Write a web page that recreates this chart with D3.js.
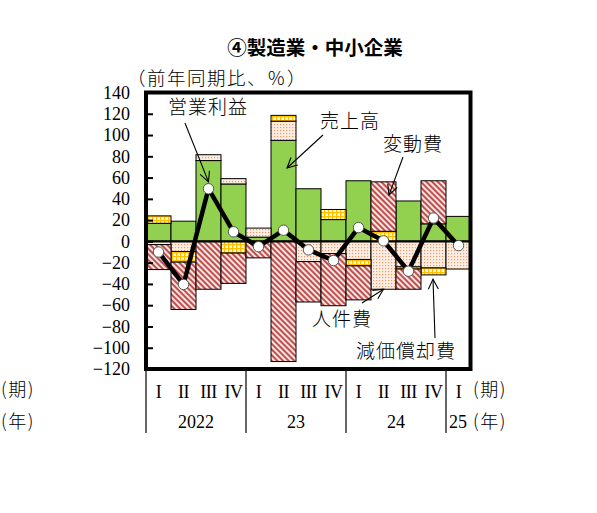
<!DOCTYPE html>
<html>
<head>
<meta charset="utf-8">
<script src="https://cdn.jsdelivr.net/npm/d3@7"></script>
<style>
  body { margin: 0; background: #fff; }
  .jp { font-family: "Noto Sans CJK JP", sans-serif; font-weight: 300; }
  .num { font-family: "Liberation Serif", serif; }
</style>
</head>
<body>
<div id="chart"></div>
<script>
// quarters and years along the bottom
var quarters = ["I", "II", "III", "IV", "I", "II", "III", "IV", "I", "II", "III", "IV", "I"];
var yearLabels = ["2022", "23", "24", "25"];
var yearStart = [0, 4, 8, 12];
var yearEnd = [4, 8, 12, 13];

// contributions (前年同期比、%)
var sales = [17, 19, 76, 54, 4, 95, 49.5, 20.5, 57, 0, 38, 16.5, 23.5];
var labor = [-3, -9.5, 5.5, 5, 8.5, 18, -19, -11.5, -17, -45, -24, -25, -26];
var depreciation = [7, -10, 0, -11, 0, 5.5, 0, 9.5, -6, 9.5, -2, -6.5, 0];
var variableCost = [-23.5, -44.5, -45, -28.5, -15.5, -113, -38, -49, -32, 46.5, -19, 40.5, 0];
var operatingProfit = [-10, -40.5, 49.5, 9, -5, 10.5, -8, -18, 13, 0.5, -28, 22, -4];

var yTicks = [-120, -100, -80, -60, -40, -20, 0, 20, 40, 60, 80, 100, 120, 140];

var svgWidth = 597, svgHeight = 513;

var svg = d3.select("#chart")
  .append("svg")
  .attr("width", svgWidth)
  .attr("height", svgHeight);

var x = d3.scaleBand()
  .domain(d3.range(quarters.length))
  .range([146, 471])
  .padding(0);

var y = d3.scaleLinear()
  .domain([-120, 140])
  .range([369, 92.5]);

// fill patterns
var defs = svg.append("defs");

var hatch = defs.append("pattern")
  .attr("id", "hatch")
  .attr("patternUnits", "userSpaceOnUse")
  .attr("width", 4)
  .attr("height", 4)
  .attr("patternTransform", "rotate(-45)");
hatch.append("rect").attr("width", 4).attr("height", 4).attr("fill", "#f7e4e2");
hatch.append("rect").attr("width", 2).attr("height", 4).attr("fill", "#c0504d");

var dots = defs.append("pattern")
  .attr("id", "dots")
  .attr("patternUnits", "userSpaceOnUse")
  .attr("width", 3)
  .attr("height", 3);
dots.append("rect").attr("width", 3).attr("height", 3).attr("fill", "#fdeee3");
dots.append("rect").attr("x", 1).attr("y", 1).attr("width", 1.2).attr("height", 1.2).attr("fill", "#ee9a66");

var grid = defs.append("pattern")
  .attr("id", "grid")
  .attr("patternUnits", "userSpaceOnUse")
  .attr("width", 4)
  .attr("height", 4);
grid.append("rect").attr("width", 4).attr("height", 4).attr("fill", "#ffc000");
grid.append("rect").attr("x", 1.3).attr("y", 1.3).attr("width", 2.7).attr("height", 2.7).attr("fill", "#fff6d5");

var marker = defs.append("marker")
  .attr("id", "arrow")
  .attr("viewBox", "-1 -7 13 14")
  .attr("refX", 10)
  .attr("refY", 0)
  .attr("markerWidth", 13)
  .attr("markerHeight", 14)
  .attr("markerUnits", "userSpaceOnUse")
  .attr("orient", "auto");
marker.append("path")
  .attr("d", "M0,-5L10,0L0,5")
  .attr("fill", "none")
  .attr("stroke", "#000")
  .attr("stroke-width", 1.1);

// stacked bars
var rows = quarters.map(function(q, i) {
  return {
    sales: sales[i],
    labor: labor[i],
    depreciation: depreciation[i],
    variable: variableCost[i]
  };
});

var fills = { sales: "#92d050", labor: "url(#dots)", depreciation: "url(#grid)", variable: "url(#hatch)" };

var stacked = d3.stack()
  .keys(["sales", "labor", "depreciation", "variable"])
  .offset(d3.stackOffsetDiverging)(rows);

var barGroup = svg.append("g");
stacked.forEach(function(layer) {
  barGroup.selectAll(null)
    .data(layer.filter(function(d) { return d[1] !== d[0]; }))
    .enter()
    .append("rect")
    .attr("x", function(d) { return x(layer.indexOf(d)); })
    .attr("width", x.bandwidth())
    .attr("y", function(d) { return y(Math.max(d[0], d[1])); })
    .attr("height", function(d) { return Math.abs(y(d[0]) - y(d[1])); })
    .attr("fill", fills[layer.key])
    .attr("stroke", "#000")
    .attr("stroke-width", 1);
});

// zero line
svg.append("line")
  .attr("x1", 146).attr("x2", 470.5)
  .attr("y1", y(0)).attr("y2", y(0))
  .attr("stroke", "#000")
  .attr("stroke-width", 2.2);

// operating profit line
var line = d3.line()
  .x(function(d, i) { return x(i) + x.bandwidth() / 2; })
  .y(function(d) { return y(d); });

svg.append("path")
  .datum(operatingProfit)
  .attr("d", line)
  .attr("fill", "none")
  .attr("stroke", "#000")
  .attr("stroke-width", 4.5)
  .attr("stroke-linejoin", "miter");

svg.selectAll(".pt")
  .data(operatingProfit)
  .enter()
  .append("circle")
  .attr("class", "pt")
  .attr("cx", function(d, i) { return x(i) + x.bandwidth() / 2; })
  .attr("cy", function(d) { return y(d); })
  .attr("r", 5.2)
  .attr("fill", "#fff")
  .attr("stroke", "#555")
  .attr("stroke-width", 1);

// y axis, ticks inside the frame
var leftAxis = d3.axisLeft(y)
  .tickValues(yTicks)
  .tickSizeInner(-7)
  .tickSizeOuter(0)
  .tickPadding(16)
  .tickFormat(function(d) { return String(d).replace("-", "\u2212"); });

var yAxis = svg.append("g")
  .attr("transform", "translate(146,0)")
  .call(leftAxis);
yAxis.select(".domain").remove();
yAxis.selectAll("line").attr("stroke", "#000").attr("stroke-width", 2);
yAxis.selectAll("text")
  .attr("class", "num")
  .attr("font-size", 18)
  .attr("fill", "#000")
  .attr("font-family", "Liberation Serif, serif");

// frame
svg.append("rect")
  .attr("x", 146)
  .attr("y", y(140))
  .attr("width", 324.5)
  .attr("height", y(-120) - y(140))
  .attr("fill", "none")
  .attr("stroke", "#000")
  .attr("stroke-width", 4);

// category labels
svg.selectAll(".q")
  .data(quarters)
  .enter()
  .append("text")
  .attr("class", "num")
  .attr("x", function(d, i) { return x(i) + x.bandwidth() / 2; })
  .attr("y", 398)
  .attr("text-anchor", "middle")
  .attr("font-size", 18)
  .attr("letter-spacing", -0.5)
  .text(function(d) { return d; });

svg.selectAll(".yr")
  .data(yearLabels)
  .enter()
  .append("text")
  .attr("class", "num")
  .attr("x", function(d, i) {
    return i === yearLabels.length - 1 ? x(yearStart[i]) + 12 : (x(yearStart[i]) + x(yearEnd[i] - 1) + x.bandwidth()) / 2;
  })
  .attr("y", 428)
  .attr("text-anchor", "middle")
  .attr("font-size", 18)
  .text(function(d) { return d; });

// year separators
svg.selectAll(".sep")
  .data(yearStart)
  .enter()
  .append("line")
  .attr("x1", function(d) { return x(d); })
  .attr("x2", function(d) { return x(d); })
  .attr("y1", y(-120))
  .attr("y2", 433)
  .attr("stroke", "#000")
  .attr("stroke-width", 1.2);

// axis captions
var captions = [
  { t: "(期)", x: 1, y: 396 },
  { t: "(年)", x: 1, y: 428 },
  { t: "(期)", x: 473, y: 396 },
  { t: "(年)", x: 473, y: 428 }
];
svg.selectAll(".cap")
  .data(captions)
  .enter()
  .append("text")
  .attr("class", "jp")
  .attr("x", function(d) { return d.x; })
  .attr("y", function(d) { return d.y; })
  .attr("font-size", 18)
  .attr("letter-spacing", 1.5)
  .text(function(d) { return d.t; });

// title
svg.append("text")
  .attr("x", 315)
  .attr("y", 55)
  .attr("text-anchor", "middle")
  .attr("font-family", "Noto Sans CJK JP, sans-serif")
  .attr("font-weight", "bold")
  .attr("font-size", 19.5)
  .text("④製造業・中小企業");

svg.append("text")
  .attr("class", "jp")
  .attr("x", 127)
  .attr("y", 85)
  .attr("font-size", 18.5)
  .attr("letter-spacing", 1.5)
  .text("（前年同期比、％）");

// labels with arrows; tips sit on the data
var notes = [
  { t: "営業利益", tx: 168, ty: 114, x0: 185, y0: 123, i: 2, v: 56, dx: 0 },
  { t: "売上高", tx: 320, ty: 128, x0: 323, y0: 135, i: 5, v: 69, dx: 3.5 },
  { t: "変動費", tx: 383, ty: 151, x0: 403, y0: 157, i: 9, v: 43.5, dx: 5.5 },
  { t: "人件費", tx: 312, ty: 326, x0: 362, y0: 303, i: 9, v: -45, dx: 0 },
  { t: "減価償却費", tx: 356, ty: 358, x0: 435, y0: 338, i: 11, v: -35.5, dx: -0.5 }
];

svg.selectAll(".note")
  .data(notes)
  .enter()
  .append("text")
  .attr("class", "jp")
  .attr("x", function(d) { return d.tx; })
  .attr("y", function(d) { return d.ty; })
  .attr("font-size", 19)
  .attr("letter-spacing", 1)
  .text(function(d) { return d.t; });

svg.selectAll(".arr")
  .data(notes)
  .enter()
  .append("line")
  .attr("x1", function(d) { return d.x0; })
  .attr("y1", function(d) { return d.y0; })
  .attr("x2", function(d) { return x(d.i) + x.bandwidth() / 2 + d.dx; })
  .attr("y2", function(d) { return y(d.v); })
  .attr("stroke", "#000")
  .attr("stroke-width", 1.1)
  .attr("marker-end", "url(#arrow)");
</script>
</body>
</html>
